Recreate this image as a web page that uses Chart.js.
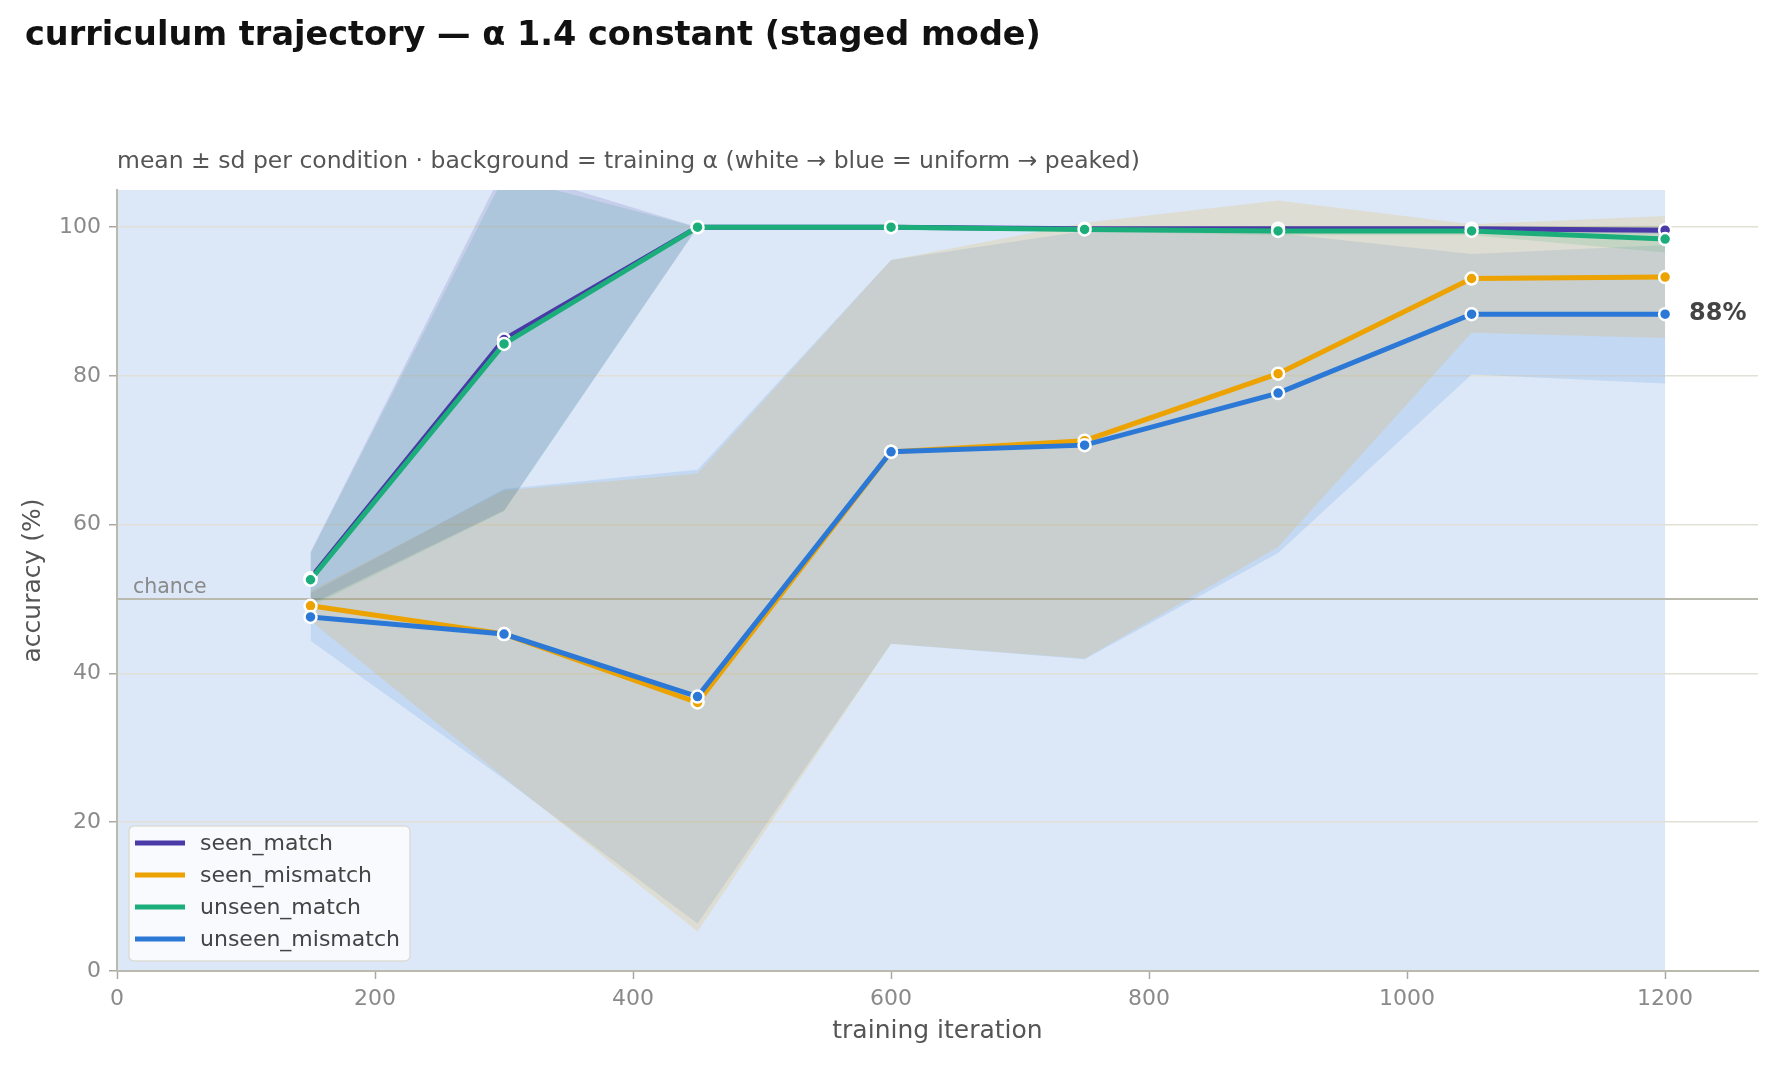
<!DOCTYPE html>
<html>
<head>
<meta charset="utf-8">
<script src="https://cdn.jsdelivr.net/npm/chart.js@4.4.0/dist/chart.umd.min.js"></script>
<style>
    body { margin: 0; background: #fff; font-family: "DejaVu Sans", sans-serif; }
    #wrap { position: relative; width: 1778px; height: 1066px; }
    #title { position: absolute; left: 25px; top: 14px; font-size: 33.5px; font-weight: bold; color: #111; white-space: nowrap; }
    #subtitle { position: absolute; left: 117px; top: 146px; font-size: 23.5px; color: #555; white-space: nowrap; }
    #chart-box { position: absolute; left: 0; top: 0; width: 1778px; height: 1066px; }
</style>
</head>
<body>
<div id="wrap">
    <div id="chart-box"><canvas id="chart"></canvas></div>
    <div id="title">curriculum trajectory — α 1.4 constant (staged mode)</div>
    <div id="subtitle">mean ± sd per condition · background = training α (white → blue = uniform → peaked)</div>
</div>
<script>
// training iterations at which each condition was evaluated
const iterations = [150, 300, 450, 600, 750, 900, 1050, 1200];

// accuracy means (%) and standard deviations per condition
const seenMatch = [52.8, 84.9, 100, 100, 99.8, 99.8, 99.8, 99.6];
const seenMatchSd = [3.5, 23.0, 0, 0, 0.2, 0.3, 0.3, 0.5];
const seenMismatch = [49.1, 45.3, 36.1, 69.8, 71.3, 80.3, 93.1, 93.3];
const seenMismatchSd = [2.0, 19.3, 30.8, 25.8, 29.3, 23.3, 7.3, 8.2];
const unseenMatch = [52.6, 84.3, 100, 100, 99.7, 99.5, 99.5, 98.4];
const unseenMatchSd = [3.6, 22.5, 0, 0, 0.3, 0.6, 0.6, 1.8];
const unseenMismatch = [47.6, 45.3, 36.9, 69.8, 70.7, 77.7, 88.3, 88.3];
const unseenMismatchSd = [3.2, 19.5, 30.5, 25.8, 28.8, 21.5, 8.1, 9.3];

// training alpha schedule (constant), drawn as the background band
const alphaIters = [0, 1200];
const alphaValues = [1.4, 1.4];

const chanceLevel = 50;
const xTicks = [0, 200, 400, 600, 800, 1000, 1200];
const yTicks = [0, 20, 40, 60, 80, 100];

const seriesNames = ['seen_match', 'seen_mismatch', 'unseen_match', 'unseen_mismatch'];
const seriesMeans = [seenMatch, seenMismatch, unseenMatch, unseenMismatch];
const seriesSds = [seenMatchSd, seenMismatchSd, unseenMatchSd, unseenMismatchSd];
const seriesColors = ['#4a3aa7', '#eca200', '#1bae7b', '#2b78d6'];
const bandColors = ['rgba(74,58,167,0.15)', 'rgba(236,162,0,0.15)', 'rgba(27,174,123,0.15)', 'rgba(43,120,214,0.14)'];

const FONT = '"DejaVu Sans", sans-serif';

function points(values) {
    return iterations.map((x, i) => ({ x: x, y: values[i] }));
}

// Build datasets: for each series an upper/lower band pair, then the mean line
function buildDatasets() {
    const sets = [];
    seriesNames.forEach((name, s) => {
        const mean = seriesMeans[s];
        const sd = seriesSds[s];
        sets.push({
            label: name + '_upper',
            data: points(mean.map((m, i) => m + sd[i])),
            borderWidth: 0,
            pointRadius: 0,
            fill: false,
            order: 20 + s
        });
        sets.push({
            label: name + '_lower',
            data: points(mean.map((m, i) => m - sd[i])),
            borderWidth: 0,
            pointRadius: 0,
            backgroundColor: bandColors[s],
            fill: '-1',
            order: 20 + s
        });
    });
    seriesNames.forEach((name, s) => {
        sets.push({
            label: name,
            data: points(seriesMeans[s]),
            borderColor: seriesColors[s],
            backgroundColor: seriesColors[s],
            borderWidth: 5,
            pointRadius: 6,
            pointBorderColor: '#ffffff',
            pointBorderWidth: 2.5,
            pointBackgroundColor: seriesColors[s],
            fill: false,
            order: 4 - s
        });
    });
    return sets;
}

// background = training alpha region, drawn under the grid
const alphaBackground = {
    id: 'alphaBackground',
    beforeDraw(chart) {
        const { ctx, chartArea, scales } = chart;
        const x0 = scales.x.getPixelForValue(alphaIters[0]);
        const x1 = scales.x.getPixelForValue(alphaIters[alphaIters.length - 1]);
        ctx.save();
        ctx.fillStyle = '#dce8f8';
        ctx.fillRect(x0, chartArea.top, x1 - x0, chartArea.bottom - chartArea.top);
        ctx.restore();
    }
};

// chance reference line and label
const chanceLine = {
    id: 'chanceLine',
    beforeDatasetsDraw(chart) {
        const { ctx, chartArea, scales } = chart;
        const y = scales.y.getPixelForValue(chanceLevel);
        ctx.save();
        ctx.strokeStyle = '#bbbaae';
        ctx.lineWidth = 2;
        ctx.beginPath();
        ctx.moveTo(chartArea.left, y);
        ctx.lineTo(chartArea.right, y);
        ctx.stroke();
        ctx.fillStyle = '#8a8a8a';
        ctx.font = '20.5px ' + FONT;
        ctx.textBaseline = 'bottom';
        ctx.fillText('chance', chartArea.left + 16, y - 1);
        ctx.restore();
    }
};

// final-value label and legend box
const overlay = {
    id: 'overlay',
    afterDraw(chart) {
        const { ctx, chartArea, scales } = chart;
        const last = unseenMismatch[unseenMismatch.length - 1];
        ctx.save();
        ctx.fillStyle = '#444';
        ctx.font = 'bold 24px ' + FONT;
        ctx.textBaseline = 'middle';
        ctx.fillText(Math.round(last) + '%', scales.x.getPixelForValue(iterations[iterations.length - 1]) + 24,
            scales.y.getPixelForValue(last));

        const bx = chartArea.left + 12, bw = 281, bh = 135;
        const by = chartArea.bottom - 10 - bh;
        ctx.beginPath();
        ctx.roundRect(bx, by, bw, bh, 5);
        ctx.fillStyle = 'rgba(250,251,253,0.95)';
        ctx.fill();
        ctx.strokeStyle = '#dcdcd6';
        ctx.lineWidth = 1.5;
        ctx.stroke();

        ctx.font = '22px ' + FONT;
        seriesNames.forEach((name, s) => {
            const y = by + 17 + s * 32;
            ctx.strokeStyle = seriesColors[s];
            ctx.lineWidth = 5;
            ctx.beginPath();
            ctx.moveTo(bx + 6, y);
            ctx.lineTo(bx + 56, y);
            ctx.stroke();
            ctx.fillStyle = '#444';
            ctx.fillText(name, bx + 71, y + 1);
        });
        ctx.restore();
    }
};

function createChart() {
    const ctx = document.getElementById('chart').getContext('2d');
    return new Chart(ctx, {
        type: 'line',
        data: { datasets: buildDatasets() },
        options: {
            responsive: true,
            maintainAspectRatio: false,
            animation: false,
            devicePixelRatio: 1,
            layout: { padding: { top: 190, right: 20, left: 0, bottom: 0 } },
            elements: { line: { tension: 0 } },
            plugins: {
                legend: { display: false },
                tooltip: { enabled: false },
                title: { display: false }
            },
            scales: {
                x: {
                    type: 'linear',
                    min: 0,
                    max: 1272,
                    afterFit: s => { s.height = 95; },
                    afterBuildTicks: s => { s.ticks = xTicks.map(v => ({ value: v })); },
                    ticks: { color: '#8a8a8a', font: { family: FONT, size: 22 }, padding: 7, maxRotation: 0, callback: v => String(v) },
                    grid: { drawOnChartArea: false, drawTicks: true, tickLength: 8, tickColor: '#aaa9a0', tickWidth: 1.5 },
                    border: { color: '#bbbaae', width: 2 },
                    title: { display: true, text: 'training iteration', color: '#555', font: { family: FONT, size: 25 }, padding: { top: 4, bottom: 20 } }
                },
                y: {
                    min: 0,
                    max: 105,
                    afterFit: s => { s.width = 117; },
                    afterBuildTicks: s => { s.ticks = yTicks.map(v => ({ value: v })); },
                    ticks: { color: '#8a8a8a', font: { family: FONT, size: 22 }, padding: 8, callback: v => String(v) },
                    grid: { color: '#e1e0d6', lineWidth: 1.5, tickLength: 8, tickColor: '#aaa9a0', tickWidth: 1.5 },
                    border: { color: '#bbbaae', width: 2 },
                    title: { display: true, text: 'accuracy (%)', color: '#555', font: { family: FONT, size: 25 }, padding: { top: 18, bottom: 4 } }
                }
            }
        },
        plugins: [alphaBackground, chanceLine, overlay]
    });
}

document.addEventListener('DOMContentLoaded', createChart);
</script>
</body>
</html>
